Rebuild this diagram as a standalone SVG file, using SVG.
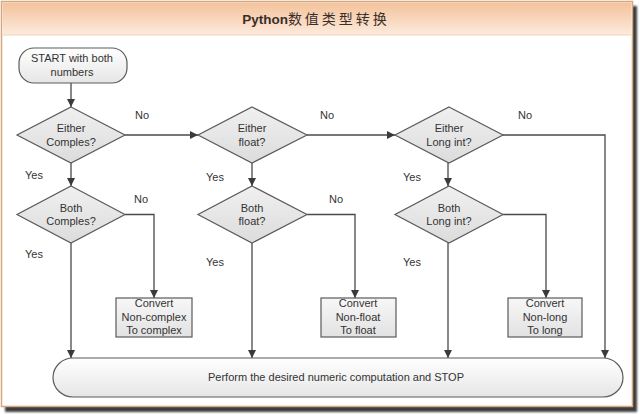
<svg xmlns="http://www.w3.org/2000/svg" width="640" height="414" viewBox="0 0 640 414">
<defs>
<linearGradient id="band" x1="0" y1="0" x2="0" y2="1">
<stop offset="0" stop-color="#f3c29a"/>
<stop offset="0.5" stop-color="#f8d6bc"/>
<stop offset="1" stop-color="#fdebdd"/>
</linearGradient>
<linearGradient id="dia" x1="0" y1="0" x2="0" y2="1">
<stop offset="0" stop-color="#f0f0f0"/>
<stop offset="1" stop-color="#dcdcdc"/>
</linearGradient>
<linearGradient id="term" x1="0" y1="0" x2="0" y2="1">
<stop offset="0" stop-color="#ffffff"/>
<stop offset="1" stop-color="#e6e6e6"/>
</linearGradient>
<linearGradient id="box" x1="0" y1="0" x2="0" y2="1">
<stop offset="0" stop-color="#f7f7f7"/>
<stop offset="1" stop-color="#e2e2e2"/>
</linearGradient>
<marker id="arr" viewBox="0 0 10 10" refX="10" refY="5" markerWidth="8" markerHeight="8" markerUnits="userSpaceOnUse" orient="auto">
<path d="M0,0 L10,5 L0,10 Z" fill="#3a3a3a"/>
</marker>
<filter id="blur" x="-5%" y="-5%" width="110%" height="110%"><feGaussianBlur stdDeviation="1"/></filter>
</defs>
<style>
text{font-family:"Liberation Sans","Noto Sans CJK SC",sans-serif;font-size:11px;fill:#333;text-anchor:middle}
.lbl{text-anchor:start}
.shape{stroke:#5a5a5a;stroke-width:1.2}
.conn path{fill:none;stroke:#4a4a4a;stroke-width:1.3}
</style>
<rect x="0" y="0" width="640" height="414" fill="#ffffff"/>
<rect x="5" y="6" width="632" height="406" fill="#3c3c3c" filter="url(#blur)"/>
<rect x="1.5" y="1.5" width="631" height="405" fill="#ffffff" stroke="#d4a77e" stroke-width="1.5"/>
<rect x="2.5" y="2.5" width="629" height="32.5" fill="url(#band)"/>
<line x1="2.5" y1="35" x2="631.5" y2="35" stroke="#f2d2b8" stroke-width="1"/>
<text x="316" y="24" style="font-size:14px;fill:#3a2f28"><tspan font-weight="bold" style="font-size:13.5px">Python</tspan><tspan style="letter-spacing:3px">数值类型转换</tspan></text>

<g class="conn">
<path d="M71,83 V107" marker-end="url(#arr)"/>
<path d="M71,163 V186" marker-end="url(#arr)"/>
<path d="M125,135 H198" marker-end="url(#arr)"/>
<path d="M307,135 H395" marker-end="url(#arr)"/>
<path d="M503,135 H605 V358" marker-end="url(#arr)"/>
<path d="M252,163 V186" marker-end="url(#arr)"/>
<path d="M448,163 V186" marker-end="url(#arr)"/>
<path d="M125,214.5 H154 V298" marker-end="url(#arr)"/>
<path d="M307,214.5 H355 V298" marker-end="url(#arr)"/>
<path d="M503,214.5 H546 V298" marker-end="url(#arr)"/>
<path d="M71,243 V358" marker-end="url(#arr)"/>
<path d="M252,243 V358" marker-end="url(#arr)"/>
<path d="M448,243 V358" marker-end="url(#arr)"/>
<text class="lbl" x="135" y="119">No</text>
<text class="lbl" x="320" y="119">No</text>
<text class="lbl" x="518" y="119">No</text>
<text class="lbl" x="134" y="203">No</text>
<text class="lbl" x="329" y="203">No</text>
<text class="lbl" x="25" y="179">Yes</text>
<text class="lbl" x="206" y="181">Yes</text>
<text class="lbl" x="403" y="181">Yes</text>
<text class="lbl" x="25" y="258">Yes</text>
<text class="lbl" x="206" y="266">Yes</text>
<text class="lbl" x="403" y="266">Yes</text>
</g>

<g id="start">
<rect class="shape" x="19" y="48" width="108" height="35" rx="15" ry="15" fill="url(#term)"/>
<text x="72" y="62">START with both</text>
<text x="72" y="76">numbers</text>
</g>
<g id="either-complex">
<polygon class="shape" points="71,107 125,135 71,163 17,135" fill="url(#dia)"/>
<text x="71" y="132">Either</text>
<text x="71" y="146">Comples?</text>
</g>
<g id="both-complex">
<polygon class="shape" points="71,186 125,214.5 71,243 17,214.5" fill="url(#dia)"/>
<text x="71" y="212">Both</text>
<text x="71" y="225">Comples?</text>
</g>
<g id="either-float">
<polygon class="shape" points="252,107 307,135 252,163 198,135" fill="url(#dia)"/>
<text x="252" y="132">Either</text>
<text x="252" y="146">float?</text>
</g>
<g id="both-float">
<polygon class="shape" points="252,186 307,214.5 252,243 198,214.5" fill="url(#dia)"/>
<text x="252" y="212">Both</text>
<text x="252" y="225">float?</text>
</g>
<g id="either-long">
<polygon class="shape" points="449,107 503,135 449,163 395,135" fill="url(#dia)"/>
<text x="449" y="132">Either</text>
<text x="449" y="146">Long int?</text>
</g>
<g id="both-long">
<polygon class="shape" points="449,186 503,214.5 449,243 395,214.5" fill="url(#dia)"/>
<text x="449" y="212">Both</text>
<text x="449" y="225">Long int?</text>
</g>
<g id="convert-complex">
<rect class="shape" x="116" y="298" width="76" height="39" fill="url(#box)"/>
<text x="154" y="307">Convert</text>
<text x="154" y="321">Non-complex</text>
<text x="154" y="334">To complex</text>
</g>
<g id="convert-float">
<rect class="shape" x="321" y="298" width="75" height="39" fill="url(#box)"/>
<text x="358" y="307">Convert</text>
<text x="358" y="321">Non-float</text>
<text x="358" y="334">To float</text>
</g>
<g id="convert-long">
<rect class="shape" x="508" y="298" width="74" height="39" fill="url(#box)"/>
<text x="545" y="307">Convert</text>
<text x="545" y="321">Non-long</text>
<text x="545" y="334">To long</text>
</g>
<g id="stop">
<rect class="shape" x="53" y="358" width="570" height="39" rx="20" ry="19.5" fill="url(#term)"/>
<text x="336" y="381">Perform the desired numeric computation and STOP</text>
</g>
</svg>
